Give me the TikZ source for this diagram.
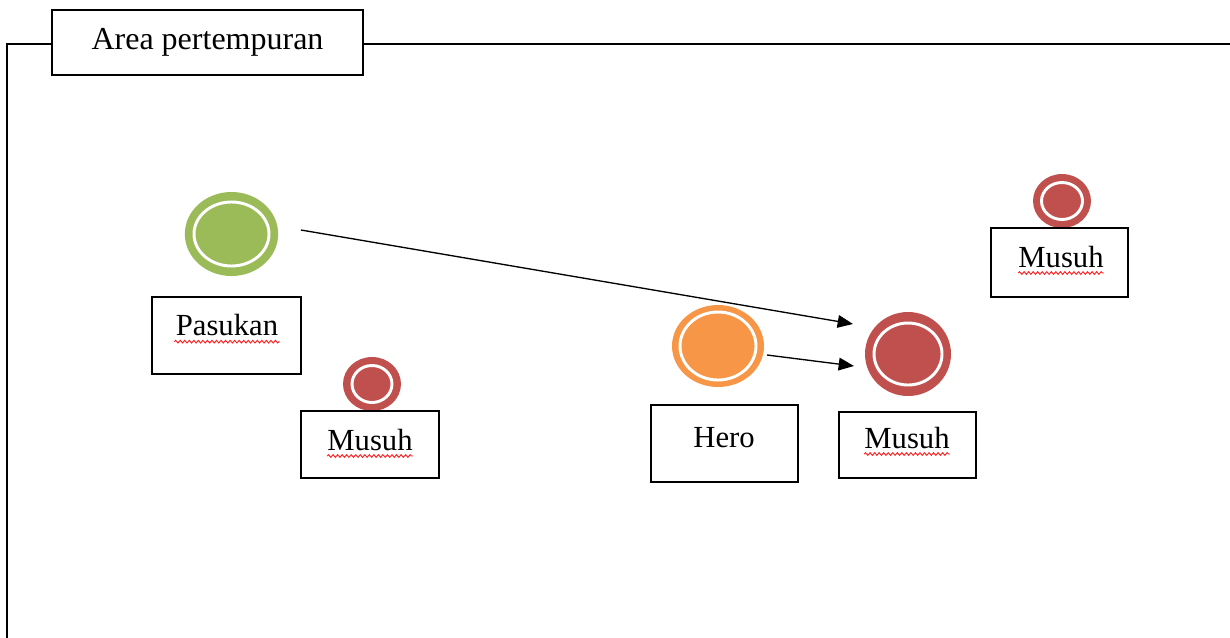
\documentclass[tikz,border=0pt]{standalone}
\usepackage{fontspec}
\setmainfont{Liberation Serif}
\usetikzlibrary{shapes.geometric,arrows.meta,decorations.pathmorphing}
\definecolor{olgreen}{HTML}{9BBB59}
\definecolor{olorange}{HTML}{F79646}
\definecolor{olred}{HTML}{C0504D}
\definecolor{spellred}{HTML}{FF2020}
\tikzset{
  framebox/.style={draw=black, line width=1.1pt, fill=white, rectangle, inner sep=0pt},
  lbl/.style={anchor=base, inner sep=0pt, font=\fontsize{23}{27}\selectfont},
  unit/.style={ellipse, inner sep=0pt},
  ring/.style={draw=white, line width=2.2pt},
  spell/.style={draw=spellred, line width=0.7pt, decorate, decoration={snake, amplitude=1pt, segment length=3.4pt}},
  conn/.style={draw=black, line width=1pt, -{Triangle[length=11.5pt, width=9.5pt]}},
  frameline/.style={draw=black, line width=1.1pt}
}
\begin{document}
\begin{tikzpicture}[x=0.75pt,y=-0.75pt]
\useasboundingbox (0,0) rectangle (1230,637);
% outer frame
\coordinate (ftl) at (7,44);
\coordinate (fbl) at (7,640);
\coordinate (ftr) at (1232,44);
\node[framebox, minimum width=233.25pt, minimum height=48.75pt, font=\fontsize{24}{28}\selectfont] (title) at (207.5,42.5) {Area pertempuran};
\draw[frameline] (title.west |- ftl) -- (ftl) -- (fbl);
\draw[frameline] (title.east |- ftr) -- (ftr);
% units
\node[unit, fill=olgreen, minimum width=70pt, minimum height=63pt] (green) at (231.5,234) {};
\draw[ring] (green.center) ellipse [x radius=37.5, y radius=32];
\node[unit, fill=olred, minimum width=43.5pt, minimum height=40.5pt] (red1) at (372,384) {};
\draw[ring] (red1.center) ellipse [x radius=20, y radius=18.5];
\node[unit, fill=olorange, minimum width=69pt, minimum height=61.5pt] (hero) at (718,346) {};
\draw[ring] (hero.center) ellipse [x radius=38, y radius=34];
\node[unit, fill=olred, minimum width=64.5pt, minimum height=63pt] (red2) at (908,354) {};
\draw[ring] (red2.center) ellipse [x radius=34, y radius=31];
\node[unit, fill=olred, minimum width=43.5pt, minimum height=40.5pt] (red3) at (1062,201) {};
\draw[ring] (red3.center) ellipse [x radius=20.5, y radius=18.5];
% label boxes
\node[framebox, minimum width=111.75pt, minimum height=57.75pt] (pbox) at (226.5,335.5) {};
\node[lbl] (ptext) at (227,335) {Pasukan};
\node[framebox, minimum width=103.5pt, minimum height=50.25pt] (m1box) at (370,444.5) {};
\node[lbl] (m1text) at (370,450) {Musuh};
\node[framebox, minimum width=110.25pt, minimum height=57.75pt] (hbox) at (724.5,443.5) {};
\node[lbl] (htext) at (724,447) {Hero};
\node[framebox, minimum width=102.75pt, minimum height=49.5pt] (m2box) at (907.5,445) {};
\node[lbl] (m2text) at (907,448) {Musuh};
\node[framebox, minimum width=102.75pt, minimum height=51.75pt] (m3box) at (1059.5,262.5) {};
\node[lbl] (m3text) at (1061,267) {Musuh};
% spelling marks
\draw[spell] ([yshift=-5pt,xshift=-1pt]ptext.base west) -- ([yshift=-5pt,xshift=1pt]ptext.base east);
\draw[spell] ([yshift=-4.5pt]m1text.base west) -- ([yshift=-4.5pt]m1text.base east);
\draw[spell] ([yshift=-4.5pt]m2text.base west) -- ([yshift=-4.5pt]m2text.base east);
\draw[spell] ([yshift=-4.5pt]m3text.base west) -- ([yshift=-4.5pt]m3text.base east);
% arrows
\coordinate (a1s) at (301,230);
\coordinate (a1e) at (853,324);
\coordinate (a2s) at (767,355);
\coordinate (a2e) at (854,366);
\draw[conn] (a1s) -- (a1e);
\draw[conn] (a2s) -- (a2e);
\end{tikzpicture}
\end{document}
